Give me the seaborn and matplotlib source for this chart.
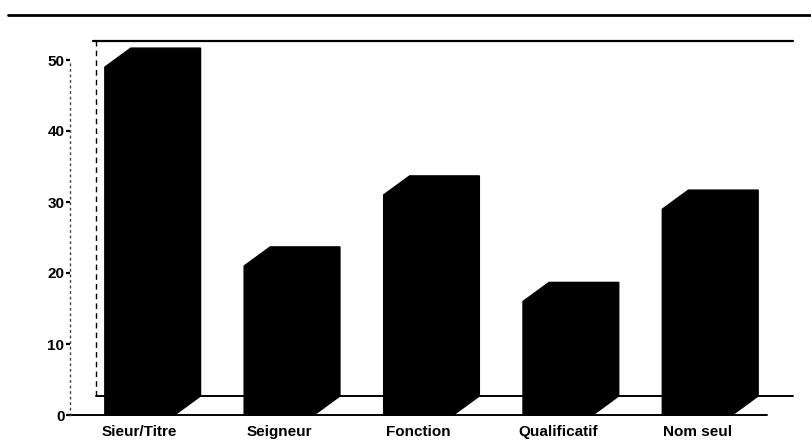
import matplotlib
matplotlib.use("Agg")
import matplotlib.pyplot as plt
import pandas as pd
import seaborn as sns
from matplotlib.patches import Polygon
from matplotlib.lines import Line2D

categories = ["Sieur/Titre", "Seigneur", "Fonction", "Qualificatif", "Nom seul"]
values = [49, 21, 31, 16, 29]
yticks = [0, 10, 20, 30, 40, 50]

sns.set_theme(style="white")
plt.rcParams["font.family"] = ["Liberation Sans", "DejaVu Sans"]

W, H = 811, 444
fig = plt.figure(figsize=(W / 100, H / 100), dpi=100)
fig.patch.set_facecolor("white")

# front plane of the 3D chart, in figure pixels
ax_left, ax_right, ax_bottom, ax_top = 70, 767, 29, 384
ax = fig.add_axes([ax_left / W, ax_bottom / H, (ax_right - ax_left) / W, (ax_top - ax_bottom) / H])
ax.set_facecolor("white")

df = pd.DataFrame({"categorie": categories, "valeur": values})
sns.barplot(data=df, x="categorie", y="valeur", color="black", saturation=1,
            width=0.5, edgecolor="black", ax=ax, zorder=3)
ax.set_xlim(-0.5, 4.5)
ax.set_ylim(0, 50)

# depth of the extrusion, in pixels, converted to data units
DX, DY = 26, 19
ddx = DX / ((ax_right - ax_left) / 5.0)
ddy = DY / ((ax_top - ax_bottom) / 50.0)

# extrude every bar: top and right side
for p in list(ax.patches):
    x0, w, h = p.get_x(), p.get_width(), p.get_height()
    pts = [(x0, 0), (x0, h), (x0 + ddx, h + ddy), (x0 + w + ddx, h + ddy),
           (x0 + w + ddx, ddy), (x0 + w, 0)]
    ax.add_patch(Polygon(pts, closed=True, facecolor="black", edgecolor="black",
                         lw=1, clip_on=False, zorder=3))

# floor: front and back edges
ax.plot([-0.5, 4.5], [0, 0], color="black", lw=1.4, zorder=1, clip_on=False)
ax.plot([-0.5 + ddx, 4.5 + ddx], [ddy, ddy], color="black", lw=1.4, zorder=1, clip_on=False)
# back wall: left edge and top edge
ax.plot([-0.5 + ddx, -0.5 + ddx], [ddy, 50 + ddy], color="black", lw=1.0,
        ls=(0, (4, 3)), zorder=1, clip_on=False)
ax.plot([-0.5 + ddx - 0.02, 4.5 + ddx], [50 + ddy, 50 + ddy], color="black", lw=1.6,
        zorder=1, clip_on=False)

for side in ["top", "right", "bottom"]:
    ax.spines[side].set_visible(False)
ax.spines["left"].set_linestyle((0, (1, 3)))
ax.spines["left"].set_color("#444444")
ax.spines["left"].set_linewidth(1.0)

ax.set_yticks(yticks)
ax.set_yticklabels([str(t) for t in yticks], fontsize=11, fontweight="bold", color="black")
ax.tick_params(axis="y", direction="out", length=3, width=1.6, pad=1, color="black", left=True)
ax.set_xticks(range(len(categories)))
ax.set_xticklabels(categories, fontsize=11, fontweight="bold", color="black")
ax.tick_params(axis="x", length=0, pad=7)
ax.set_xlabel("")
ax.set_ylabel("")

# rule across the top of the page
fig.add_artist(Line2D([8 / W, 1.0], [1 - 15 / H, 1 - 15 / H], color="black", lw=2.0,
                      transform=fig.transFigure))

fig.savefig("out.png", dpi=100, facecolor="white")
